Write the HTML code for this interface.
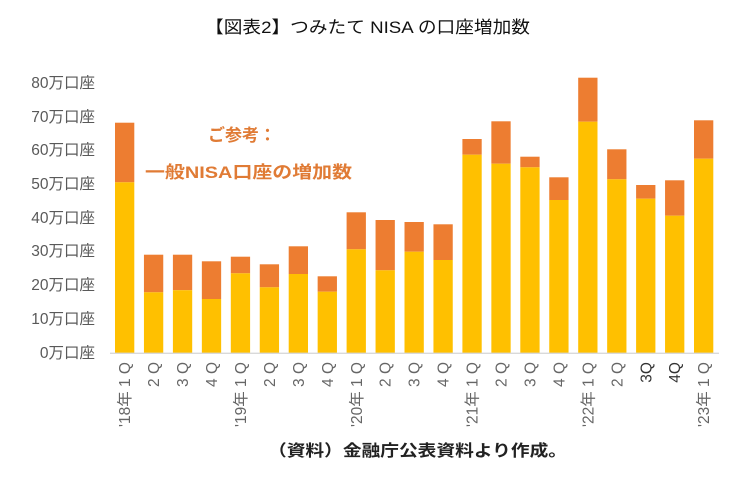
<!DOCTYPE html>
<html><head><meta charset="utf-8"><style>
html,body{margin:0;padding:0;background:#fff;}
svg{display:block;}
text{font-family:"Liberation Sans","Noto Sans CJK JP",sans-serif;}
</style></head><body>
<svg width="750" height="480" viewBox="0 0 750 480" xmlns="http://www.w3.org/2000/svg">
<rect width="750" height="480" fill="#fff"/>
<text x="205" y="33" font-size="17" fill="#111" textLength="325" lengthAdjust="spacingAndGlyphs">【図表2】つみたて NISA の口座増加数</text>
<g font-size="15.5" fill="#595959" text-anchor="end">
<text x="95" y="88">80万口座</text>
<text x="95" y="122">70万口座</text>
<text x="95" y="155">60万口座</text>
<text x="95" y="189">50万口座</text>
<text x="95" y="223">40万口座</text>
<text x="95" y="256">30万口座</text>
<text x="95" y="290">20万口座</text>
<text x="95" y="324">10万口座</text>
<text x="95" y="358">0万口座</text>
</g>
<g fill="#ED7D31">
<rect x="115" y="122.7" width="19.3" height="59.6"/>
<rect x="143.95" y="254.7" width="19.3" height="37.6"/>
<rect x="172.9" y="254.7" width="19.3" height="35.5"/>
<rect x="201.85" y="261.3" width="19.3" height="37.7"/>
<rect x="230.8" y="256.7" width="19.3" height="16.6"/>
<rect x="259.75" y="264.3" width="19.3" height="23"/>
<rect x="288.7" y="246.3" width="19.3" height="27.7"/>
<rect x="317.65" y="276.3" width="19.3" height="15.4"/>
<rect x="346.6" y="212.3" width="19.3" height="37"/>
<rect x="375.55" y="220" width="19.3" height="50.3"/>
<rect x="404.5" y="222" width="19.3" height="29.7"/>
<rect x="433.45" y="224.3" width="19.3" height="35.7"/>
<rect x="462.4" y="139" width="19.3" height="15.7"/>
<rect x="491.35" y="121.3" width="19.3" height="42.4"/>
<rect x="520.3" y="156.7" width="19.3" height="10.6"/>
<rect x="549.25" y="177.3" width="19.3" height="22.7"/>
<rect x="578.2" y="77.7" width="19.3" height="44"/>
<rect x="607.15" y="149.3" width="19.3" height="30"/>
<rect x="636.1" y="185" width="19.3" height="13.7"/>
<rect x="665.05" y="180.3" width="19.3" height="35.4"/>
<rect x="694" y="120.3" width="19.3" height="38.4"/>
</g>
<g fill="#FFC000">
<rect x="115" y="182.3" width="19.3" height="170.7"/>
<rect x="143.95" y="292.3" width="19.3" height="60.7"/>
<rect x="172.9" y="290.2" width="19.3" height="62.8"/>
<rect x="201.85" y="299" width="19.3" height="54"/>
<rect x="230.8" y="273.3" width="19.3" height="79.7"/>
<rect x="259.75" y="287.3" width="19.3" height="65.7"/>
<rect x="288.7" y="274" width="19.3" height="79"/>
<rect x="317.65" y="291.7" width="19.3" height="61.3"/>
<rect x="346.6" y="249.3" width="19.3" height="103.7"/>
<rect x="375.55" y="270.3" width="19.3" height="82.7"/>
<rect x="404.5" y="251.7" width="19.3" height="101.3"/>
<rect x="433.45" y="260" width="19.3" height="93"/>
<rect x="462.4" y="154.7" width="19.3" height="198.3"/>
<rect x="491.35" y="163.7" width="19.3" height="189.3"/>
<rect x="520.3" y="167.3" width="19.3" height="185.7"/>
<rect x="549.25" y="200" width="19.3" height="153"/>
<rect x="578.2" y="121.7" width="19.3" height="231.3"/>
<rect x="607.15" y="179.3" width="19.3" height="173.7"/>
<rect x="636.1" y="198.7" width="19.3" height="154.3"/>
<rect x="665.05" y="215.7" width="19.3" height="137.3"/>
<rect x="694" y="158.7" width="19.3" height="194.3"/>
</g>
<line x1="110" y1="353.3" x2="719" y2="353.3" stroke="#d9d9d9" stroke-width="1.3"/>
<g font-size="17" font-weight="bold" fill="#E07B35">
<text x="208" y="141">ご参考：</text>
<text x="145" y="178" textLength="207" lengthAdjust="spacingAndGlyphs">一般NISA口座の増加数</text>
</g>
<g font-size="15.5" fill="#666" text-anchor="end">
<text transform="translate(130.15,362) rotate(-90)">'18年 1 Q</text>
<text transform="translate(159.1,362) rotate(-90)">2 Q</text>
<text transform="translate(188.05,362) rotate(-90)">3 Q</text>
<text transform="translate(217,362) rotate(-90)">4 Q</text>
<text transform="translate(245.95,362) rotate(-90)">'19年 1 Q</text>
<text transform="translate(274.9,362) rotate(-90)">2 Q</text>
<text transform="translate(303.85,362) rotate(-90)">3 Q</text>
<text transform="translate(332.8,362) rotate(-90)">4 Q</text>
<text transform="translate(361.75,362) rotate(-90)">'20年 1 Q</text>
<text transform="translate(390.7,362) rotate(-90)">2 Q</text>
<text transform="translate(419.65,362) rotate(-90)">3 Q</text>
<text transform="translate(448.6,362) rotate(-90)">4 Q</text>
<text transform="translate(477.55,362) rotate(-90)">'21年 1 Q</text>
<text transform="translate(506.5,362) rotate(-90)">2 Q</text>
<text transform="translate(535.45,362) rotate(-90)">3 Q</text>
<text transform="translate(564.4,362) rotate(-90)">4 Q</text>
<text transform="translate(593.35,362) rotate(-90)">'22年 1 Q</text>
<text transform="translate(622.3,362) rotate(-90)">2 Q</text>
<text transform="translate(651.25,362) rotate(-90)" fill="#333">3Q</text>
<text transform="translate(680.2,362) rotate(-90)" fill="#333">4Q</text>
<text transform="translate(709.15,362) rotate(-90)">'23年 1 Q</text>
</g>
<text x="268" y="456" font-size="16" font-weight="bold" fill="#222" textLength="299" lengthAdjust="spacingAndGlyphs">（資料）金融庁公表資料より作成。</text>
</svg>
</body></html>
